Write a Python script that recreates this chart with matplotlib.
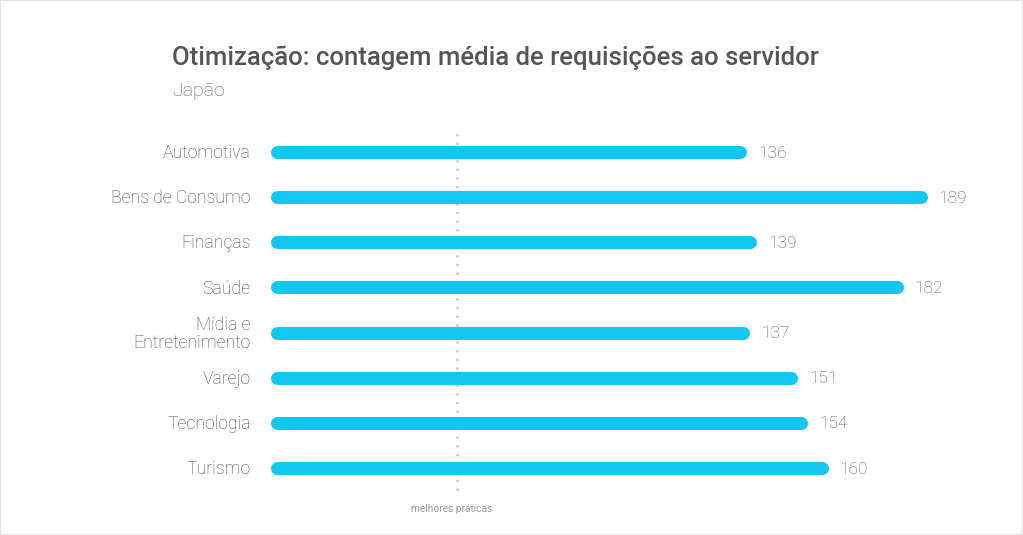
import matplotlib.pyplot as plt
from matplotlib.patches import Rectangle

categories = ['Automotiva', 'Bens de Consumo', 'Finanças', 'Saúde',
              'Mídia e\nEntretenimento', 'Varejo', 'Tecnologia', 'Turismo']
values = [136, 189, 139, 182, 137, 151, 154, 160]
best_practice = 53

bar_color = '#12C8F0'
plt.rcParams['font.family'] = ['Roboto', 'DejaVu Sans']

W, H = 1023, 535
fig = plt.figure(figsize=(W / 100, H / 100), dpi=100)
fig.patch.set_facecolor('white')
fig.patches.append(Rectangle((0, 0), 1, 1, transform=fig.transFigure,
                             fill=False, edgecolor='#e3e3e3', linewidth=1.5))

# axes placed in pixels: x=0 at 277px, rows at 152..468px
left, right, top, bottom = 277, 1000, 130, 490
ax = fig.add_axes([left / W, (H - bottom) / H, (right - left) / W, (bottom - top) / H])
ax.set_xlim(0, (right - left) / 3.405)
ax.set_ylim(7 + (bottom - 468) / 45.2, -(152 - top) / 45.2)
ax.axis('off')

ax.plot([best_practice, best_practice], [7.47, -0.4], linestyle=(0, (0.01, 3.1)),
        color='#c6c6c6', linewidth=2.0, dash_capstyle='round', zorder=1,
        clip_on=False)

for i, (cat, v) in enumerate(zip(categories, values)):
    ax.plot([0, v], [i, i], color=bar_color, linewidth=9.4,
            solid_capstyle='round', zorder=2, clip_on=False)
    ax.annotate(str(v), (v, i), xytext=(13, -0.8), textcoords='offset points',
                va='center', ha='left', fontsize=12.4, color='#5a5a5a',
                fontweight='light')
    ax.annotate(cat, (0, i), xytext=(-19, -0.8), textcoords='offset points',
                va='center', ha='right', fontsize=12.7, color='#4a4a4a',
                fontweight='light', linespacing=1.0, annotation_clip=False)

ax.annotate('melhores práticas', (best_practice, 7.47), xytext=(-4.5, -14),
            textcoords='offset points', ha='center', va='center',
            fontsize=7.3, color='#999999', annotation_clip=False)

fig.text(172 / W, 1 - 57.5 / H, 'Otimização: contagem média de requisições ao servidor',
         fontsize=18.5, fontweight='medium', color='#555555', va='center', ha='left')
fig.text(172 / W, 1 - 90.5 / H, 'Japão', fontsize=14, fontweight='light',
         color='#5f5f5f', va='center', ha='left')

fig.savefig('out.png', dpi=100)
